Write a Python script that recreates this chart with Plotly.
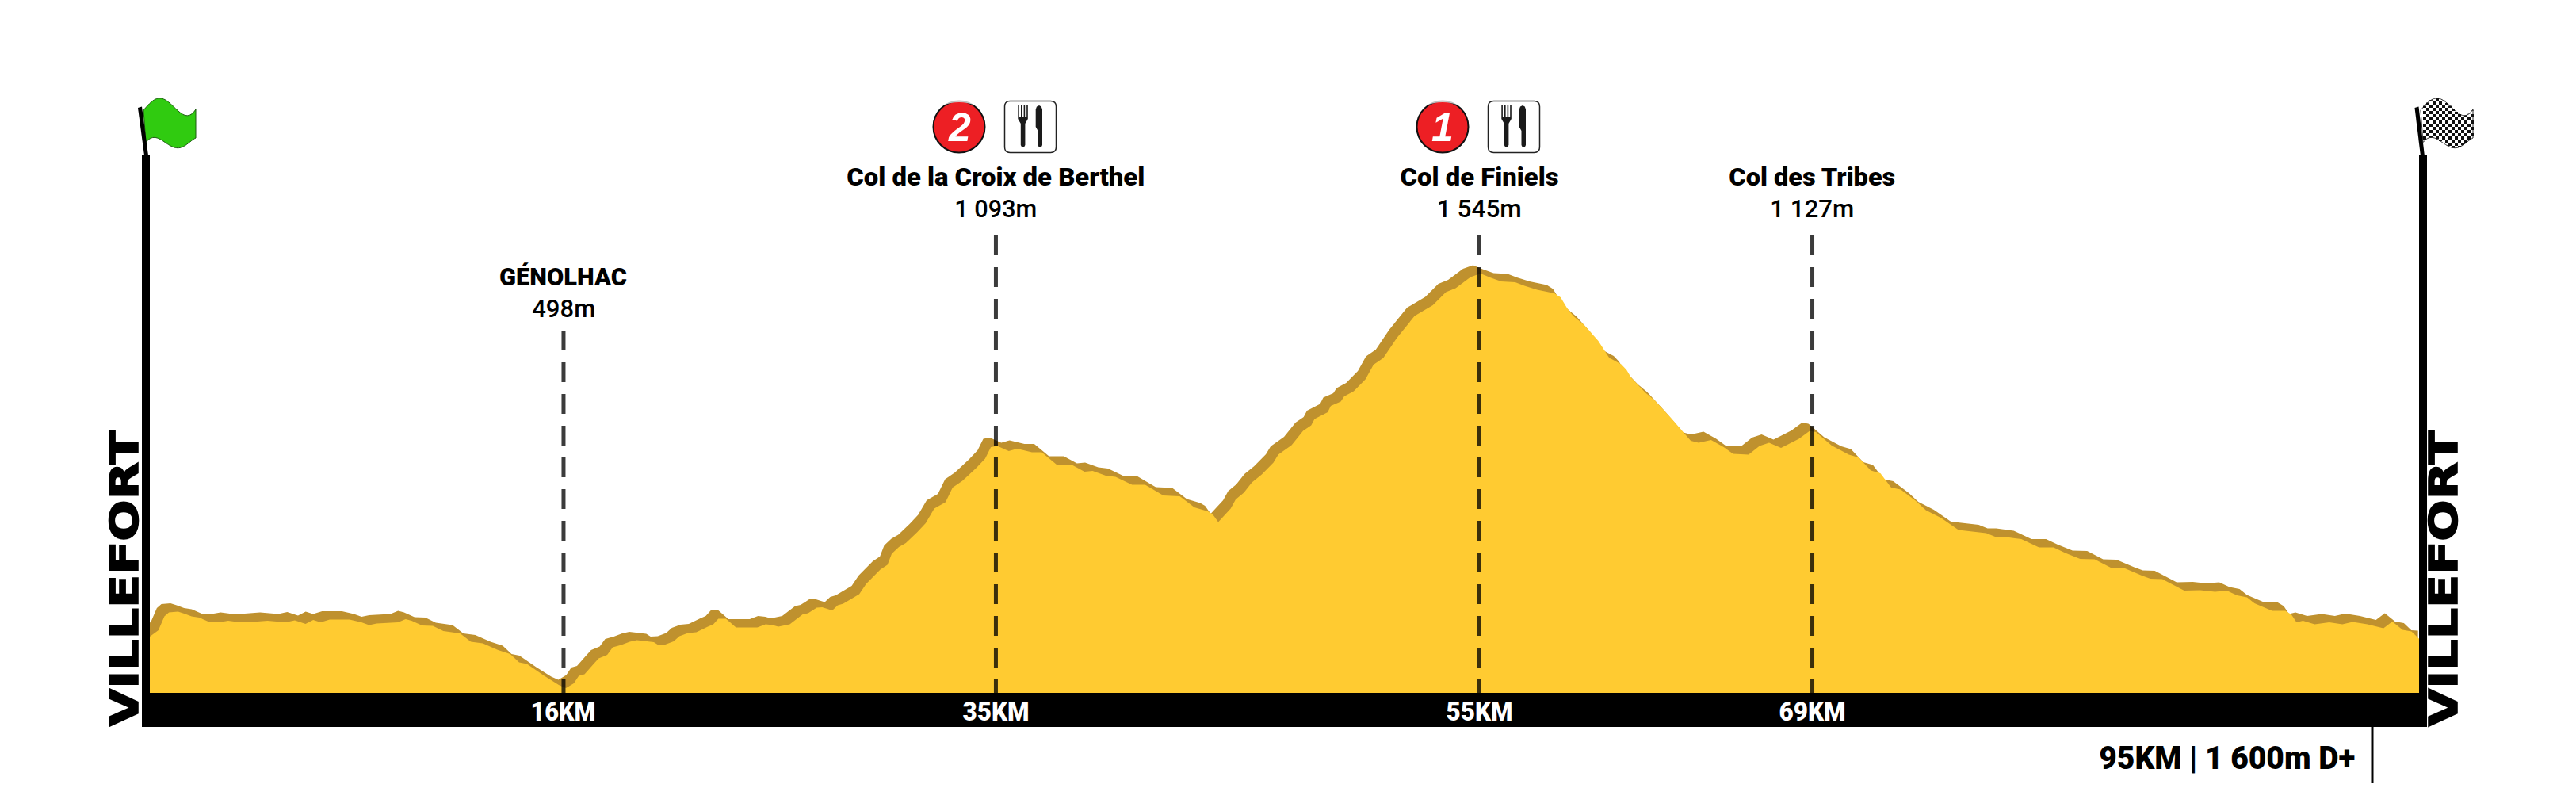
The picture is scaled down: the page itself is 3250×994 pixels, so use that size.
import json
import numpy as np
import plotly.graph_objects as go

# ---------- data ----------
distance_km = [0.00,0.36,0.61,0.80,1.18,1.44,1.75,2.07,2.52,2.90,3.28,3.78,4.29,4.93,5.69,6.07,6.52,6.84,7.15,7.53,
 8.36,8.86,9.18,9.50,10.39,10.71,10.96,11.40,11.85,12.29,12.99,13.44,13.94,14.58,15.09,15.46,15.79,16.49,17.12,17.42,
 17.75,17.96,18.20,18.55,18.79,19.15,19.38,19.74,20.09,20.39,21.10,21.28,21.58,21.93,22.17,22.53,22.88,23.36,23.59,23.80,
 24.12,24.54,25.43,25.78,26.08,26.31,26.79,27.33,27.56,27.92,28.15,28.57,28.80,29.03,29.40,29.70,29.99,30.58,30.88,31.06,
 31.36,31.65,32.12,32.48,32.84,33.31,33.61,34.02,34.61,34.97,35.21,35.48,35.96,36.31,36.93,37.34,37.96,38.58,39.13,39.47,
 40.02,40.43,41.12,41.67,42.43,43.12,43.73,44.29,44.49,44.73,45.25,45.46,45.80,46.14,46.55,47.04,47.24,47.80,48.28,48.62,
 48.76,49.31,49.44,49.86,50.00,50.40,50.89,51.23,51.64,52.20,52.95,53.71,54.26,54.67,55.29,55.71,56.11,56.57,57.16,57.55,
 58.08,58.80,59.06,59.33,59.59,60.05,60.64,61.10,61.60,61.82,62.02,62.60,63.00,63.72,64.51,64.84,65.36,65.89,66.28,66.93,
 67.39,67.79,68.29,69.04,69.49,69.75,70.41,71.13,71.53,72.05,72.45,72.90,73.30,73.96,74.35,75.00,75.72,76.19,76.88,77.25,
 77.61,78.35,79.09,79.70,80.19,80.81,81.42,82.09,82.65,83.39,83.75,84.25,84.74,85.17,85.84,86.46,86.95,87.38,87.80,88.11,
 88.85,89.40,89.65,89.87,90.14,90.63,91.24,91.79,92.22,92.84,93.51,93.88,94.31,94.68,94.99,95.27]
elevation_m = [611,627,662,672,674,669,662,659,647,647,651,647,648,651,647,652,643,653,647,654,
 654,647,640,644,647,655,651,639,638,625,619,598,594,577,567,546,542,513,489,481,
 493,512,516,540,556,565,584,590,598,602,597,590,591,599,612,620,622,636,642,656,
 656,634,634,642,640,636,642,667,670,684,685,677,690,694,707,718,744,780,792,820,
 837,847,874,897,934,950,987,1004,1037,1060,1089,1092,1079,1085,1076,1076,1045,1045,1027,1029,
 1017,1014,994,994,967,965,937,927,920,900,934,957,974,1000,1020,1050,1070,1094,1130,1144,
 1160,1177,1193,1204,1217,1230,1260,1297,1314,1364,1420,1447,1480,1490,1518,1527,1517,1507,1505,1496,
 1486,1477,1467,1440,1420,1397,1357,1314,1298,1284,1264,1227,1207,1160,1105,1100,1107,1089,1072,1070,
 1092,1100,1087,1110,1130,1127,1093,1070,1063,1030,1023,987,982,952,930,910,880,877,872,863,
 863,857,836,836,822,807,806,785,784,765,757,756,740,727,728,724,727,715,710,695,
 676,676,667,647,651,642,647,642,648,642,632,649,628,624,606,605]

marker_km = [17.32, 35.42, 55.66, 69.60]
marker_top_m = [1383, 1623, 1623, 1623]
marker_names = ["GÉNOLHAC", "Col de la Croix de Berthel", "Col de Finiels", "Col des Tribes"]
marker_heights = ["498m", "1 093m", "1 545m", "1 127m"]
marker_km_labels = ["16KM", "35KM", "55KM", "69KM"]
summary_label = "95KM | 1 600m D+"
town_label = "VILLEFORT"

# ---------- page geometry ----------
W, H = 3250, 994
LEFT, RIGHT, BASE_Y, BAR_BOTTOM = 189, 3052, 874, 917
PX_PER_KM = (RIGHT - LEFT) / 95.0
PX_PER_M = 0.5
BASE_M = 469
YELLOW, BROWN = "#FFCB31", "#BF912E"
km_range = [-LEFT / PX_PER_KM, (W - LEFT) / PX_PER_KM]
m_range = [BASE_M - (H - BASE_Y) / PX_PER_M, BASE_M + BASE_Y / PX_PER_M]
SHIFT_KM, SHIFT_M = -9.5 / PX_PER_KM, 10.5 / PX_PER_M


def px(x):
    return x / W


def py(y):
    return 1 - y / H


def pt(x, y):
    return f"{px(x):.6f},{py(y):.6f}"


def poly(points):
    return "M" + " L".join(pt(x, y) for x, y in points) + " Z"


def rect(x0, y0, x1, y1, color, **kw):
    return dict(type="rect", xref="paper", yref="paper", x0=px(x0), x1=px(x1), y0=py(y0), y1=py(y1),
                fillcolor=color, line=dict(width=0), layer="above", **kw)


def path(d, fill, line_color=None, line_width=0):
    return dict(type="path", xref="paper", yref="paper", path=d, fillcolor=fill,
                line=dict(color=line_color or "rgba(0,0,0,0)", width=line_width), layer="above")


fig = go.Figure()


def profile_trace(x, y, color):
    fig.add_trace(go.Scatter(x=[x[0]] + list(x) + [x[-1]], y=[BASE_M] + list(y) + [BASE_M], mode="lines",
                             fill="toself", fillcolor=color, line=dict(width=0), hoverinfo="skip", showlegend=False))


profile_trace([d + SHIFT_KM for d in distance_km], [e + SHIFT_M for e in elevation_m], BROWN)
profile_trace(distance_km, elevation_m, YELLOW)

for km, top in zip(marker_km, marker_top_m):
    fig.add_trace(go.Scatter(x=[km, km], y=[top, BASE_M], mode="lines", hoverinfo="skip", showlegend=False,
                             line=dict(color="rgba(0,0,0,0.77)", width=5, dash="25px,15px")))

shapes = []

# wavy flag outline
flag_top_x, flag_top_y = [181, 190, 203, 215, 225, 232, 247], [139, 129, 125, 129, 142, 144, 138]
flag_bot_x, flag_bot_y = [184, 190, 198, 207, 218, 233, 247], [179.5, 175, 173, 179.5, 185, 184, 174]
top_fit = np.polyfit(flag_top_x, flag_top_y, 5)
bot_fit = np.polyfit(flag_bot_x, flag_bot_y, 5)


def flag_outline(dx):
    xs_t = np.linspace(181, 247, 45)
    xs_b = np.linspace(247, 184, 45)
    pts = [(x + dx, np.polyval(top_fit, x)) for x in xs_t] + [(x + dx, np.polyval(bot_fit, x)) for x in xs_b]
    return poly(pts)


# start flag
shapes.append(path(flag_outline(0), "#30CB10", "#1c5a10", 1))
# finish flag: axis-aligned chequers clipped to the wavy outline
CHK = 2873
shapes.append(path(flag_outline(CHK), "#ffffff", "#333333", 1))
d = []
cell = 4
for i, x0 in enumerate(range(184, 247, cell)):
    xm = x0 + cell / 2
    t, b = np.polyval(top_fit, xm), np.polyval(bot_fit, xm)
    for j, y0 in enumerate(range(124, 188, cell)):
        if (i + j) % 2:
            continue
        y_a, y_b = max(y0, t), min(y0 + cell, b)
        if y_b > y_a:
            d.append(poly([(x0 + CHK, y_a), (x0 + cell + CHK, y_a), (x0 + cell + CHK, y_b), (x0 + CHK, y_b)]))
shapes.append(path(" ".join(d), "#111111"))

# tilted pole tips, poles and distance bar
shapes.append(path(poly([(174, 136), (179, 134.5), (187, 196), (182, 196)]), "#000000"))
shapes.append(path(poly([(3046.5, 136), (3051.5, 134.5), (3059, 197), (3054, 197)]), "#000000"))
shapes.append(rect(179, 195, 189, BAR_BOTTOM, "#000000"))
shapes.append(rect(RIGHT, 196, 3062, BAR_BOTTOM, "#000000"))
shapes.append(rect(179, BASE_Y, 3062, BAR_BOTTOM, "#000000"))
shapes.append(rect(2991.5, BAR_BOTTOM, 2994.5, 988, "#000000"))

annos = []


def text(x, y, s, size, color="#000000", family="Roboto", weight=400, angle=0, **kw):
    annos.append(dict(xref="paper", yref="paper", x=px(x), y=py(y), text=s, showarrow=False, xanchor="center",
                      yanchor="middle", textangle=angle, font=dict(family=family, size=size, color=color, weight=weight),
                      borderpad=0, **kw))


# badge + cutlery icon for refreshment points
def stop_icon(cx, num):
    r = 32.5
    shapes.append(dict(type="circle", xref="paper", yref="paper", x0=px(cx - r), x1=px(cx + r), y0=py(160 + r), y1=py(160 - r),
                       fillcolor="#ED1F24", line=dict(color="#111111", width=2), layer="above"))
    shapes.append(path(f"M{pt(cx-23,134)} Q{pt(cx,116)} {pt(cx+23,134)} Q{pt(cx,124)} {pt(cx-23,134)} Z", "rgba(255,255,255,0.75)"))
    text(cx, 161, f"<b><i>{num}</i></b>", 50, color="#ffffff", family="Liberation Sans")
    o = cx - 1210
    b = (1267.5 + o, 127.5, 1332.5 + o, 192.5)
    r2 = 7
    shapes.append(path(
        f"M{pt(b[0]+r2,b[1])} L{pt(b[2]-r2,b[1])} Q{pt(b[2],b[1])} {pt(b[2],b[1]+r2)} L{pt(b[2],b[3]-r2)} "
        f"Q{pt(b[2],b[3])} {pt(b[2]-r2,b[3])} L{pt(b[0]+r2,b[3])} Q{pt(b[0],b[3])} {pt(b[0],b[3]-r2)} "
        f"L{pt(b[0],b[1]+r2)} Q{pt(b[0],b[1])} {pt(b[0]+r2,b[1])} Z", "#ffffff", "#222222", 1.5))
    fork = [(1284.3, 133), (1285.9, 133), (1285.9, 148), (1288, 148), (1288, 133), (1289.6, 133), (1289.6, 148),
            (1291.6, 148), (1291.6, 133), (1293.2, 133), (1293.2, 148), (1295.2, 148), (1295.2, 133), (1296.8, 133),
            (1296.8, 150), (1293.4, 156), (1293.4, 183), (1291.8, 186), (1289.4, 186), (1287.8, 183), (1287.8, 156),
            (1284.3, 150)]
    shapes.append(path(poly([(x + o, y) for x, y in fork]), "#1a1a1a"))
    knife = [(1306.7, 138), (1308, 134.5), (1311, 133), (1313.8, 134.5), (1315, 138), (1315, 183), (1313.6, 186),
             (1311, 186), (1309.5, 183), (1309.5, 165), (1306.7, 160)]
    shapes.append(path(poly([(x + o, y) for x, y in knife]), "#1a1a1a"))


stop_icon(1210, 2)
stop_icon(1820, 1)

# labels
label_x = [km * PX_PER_KM + LEFT for km in marker_km]
name_y = [349, 223, 223, 223]
height_y = [389, 263, 263, 263]
lengths = {}
name_len = [161, 376, 200, 210]
height_len = [80, 104, 107, 106]
km_len = [82, 84, 84, 84]
for i, x in enumerate(label_x):
    text(x, name_y[i], marker_names[i], 32, weight=900)
    text(x, height_y[i], marker_heights[i], 32, weight=500)
    text(x, 897, marker_km_labels[i], 34, color="#ffffff", weight=900)
    lengths[marker_names[i]] = name_len[i]
    lengths[marker_heights[i]] = height_len[i]
    lengths[marker_km_labels[i]] = km_len[i]

text(2809.5, 956, summary_label, 40, weight=900)
lengths[summary_label] = 323
text(157, 730, town_label, 50, family="DejaVu Sans", weight=700, angle=-90)
text(3083, 730, town_label, 50, family="DejaVu Sans", weight=700, angle=-90)
lengths[town_label] = 373

fig.update_layout(
    width=W, height=H, autosize=False, margin=dict(l=0, r=0, t=0, b=0, pad=0),
    paper_bgcolor="#ffffff", plot_bgcolor="#ffffff", showlegend=False,
    xaxis=dict(range=km_range, visible=False, fixedrange=True),
    yaxis=dict(range=m_range, visible=False, fixedrange=True),
    shapes=shapes, annotations=annos,
)

post = """
document.body.style.margin='0';
var L=%s;
document.querySelectorAll('.annotation-text').forEach(function(t){
  var n=L[t.textContent];
  if(n){t.setAttribute('textLength',n);t.setAttribute('lengthAdjust','spacingAndGlyphs');}
  if(t.textContent==='VILLEFORT'){t.style.stroke='#000';t.style.strokeWidth='1.6px';}
});
""" % json.dumps(lengths, ensure_ascii=False)
fig.write_html("out.html", post_script=post, config=dict(displayModeBar=False))
